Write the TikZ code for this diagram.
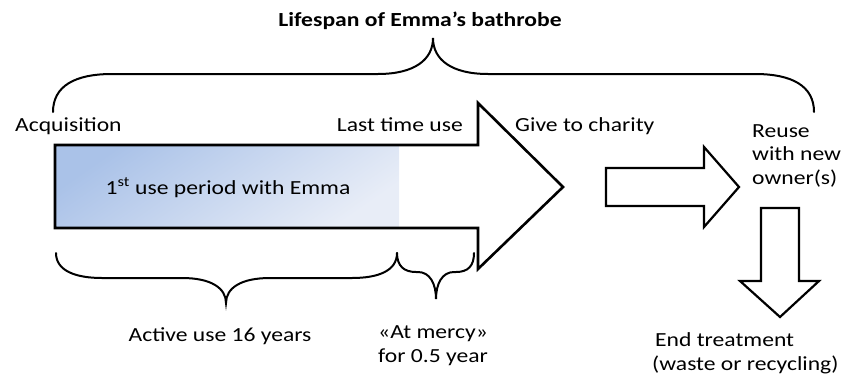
\documentclass[tikz,border=0pt]{standalone}
\usepackage{fontspec}
\setmainfont[FakeStretch=1.18]{Carlito}
\begin{document}
\begin{tikzpicture}[x=1pt,y=-1pt,
  lbl/.style={inner sep=0pt,font=\fontsize{20}{23.5}\selectfont},
  bigarrow/.style={draw=black,line width=2.6pt,line join=miter},
  smallarrow/.style={draw=black,line width=2.2pt,line join=miter},
  brace/.style={draw=black,line width=2pt,line cap=round}]
\useasboundingbox (0,0) rectangle (845,380);
% gradient fill of first period
\fill[top color={rgb,255:red,170;green,194;blue,232},bottom color={rgb,255:red,232;green,237;blue,247},shading angle=35]
  (55,145) rectangle (399,228);
% main arrow
\draw[bigarrow] (55,145) -- (478,145) -- (478,103) -- (563,187) -- (478,269) -- (478,228) -- (55,228) -- cycle;
% small right arrow
\draw[smallarrow] (606,168) -- (704,168) -- (704,147) -- (739,187) -- (704,227) -- (704,206) -- (606,206) -- cycle;
% down arrow
\draw[smallarrow] (761,208) -- (799,208) -- (799,281) -- (819,281) -- (780,317) -- (740,281) -- (761,281) -- cycle;
% top brace
\draw[brace] (53,112) .. controls (53,86) and (75,74) .. (112,74) -- (378,74)
  .. controls (414,74) and (433,60) .. (433,38)
  .. controls (433,60) and (452,74) .. (488,74) -- (755,74)
  .. controls (792,74) and (814,86) .. (814,112);
% bottom brace 1
\draw[brace] (56,253) .. controls (56,271) and (76,278) .. (102,278) -- (182,278)
  .. controls (211,278) and (226,288) .. (226,303)
  .. controls (226,288) and (241,278) .. (270,278) -- (352,278)
  .. controls (378,278) and (397,271) .. (397,253);
% bottom brace 2
\draw[brace] (397,253) .. controls (397,266) and (404,272) .. (416,272) -- (418,272)
  .. controls (430,272) and (436,284) .. (436,299)
  .. controls (436,284) and (442,272) .. (454,272) -- (456,272)
  .. controls (468,272) and (474,266) .. (474,253);
% texts
\node[lbl,font=\fontsize{20}{23.5}\selectfont\bfseries,anchor=base] (title) at (420,26) {Lifespan of Emma’s bathrobe};
\node[lbl,anchor=base west] (acq) at (15,131) {Acquisition};
\node[lbl,anchor=base east] (last) at (463,131) {Last time use};
\node[lbl,anchor=base west] (give) at (515,131) {Give to charity};
\node[lbl,anchor=base] (first) at (228,194) {1\textsuperscript{st} use period with Emma};
\node[lbl,anchor=base west,align=left] (reuse) at (752,184) {Reuse\\with new\\owner(s)};
\node[lbl,anchor=base] (active) at (220,341) {Active use 16 years};
\node[lbl,anchor=base,align=center] (mercy) at (433,362) {«At mercy»\\for 0.5 year};
\node[lbl,anchor=base west,align=left] (endt) at (652,370) {\hspace{3pt}End treatment\\(waste or recycling)};
\end{tikzpicture}
\end{document}
